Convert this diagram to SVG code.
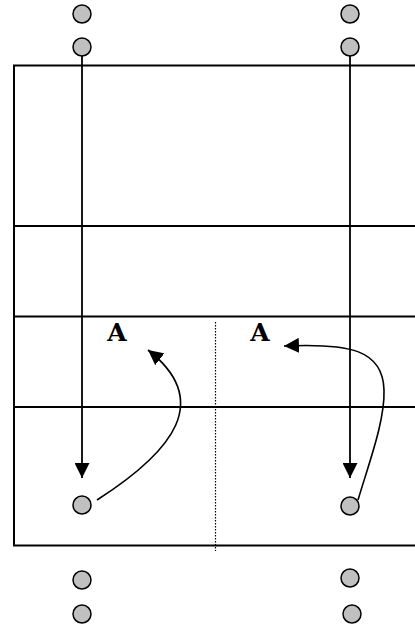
<svg xmlns="http://www.w3.org/2000/svg" width="415" height="629" viewBox="0 0 415 629">
<style>
.p{fill:#c0c0c0;stroke:#000;stroke-width:1.5}
.ln{stroke:#000;stroke-width:1.8;fill:none}
.cv{stroke:#000;stroke-width:1.6;fill:none}
.lbl{font-family:"DejaVu Serif",serif;font-weight:bold;font-size:25px;fill:#000}
</style>
<defs>
<marker id="ahb" viewBox="0 0 10 10" refX="10" refY="5" markerWidth="15" markerHeight="15" markerUnits="userSpaceOnUse" orient="auto">
<path d="M0,0 L10,5 L0,10 Z" fill="#000"/>
</marker>
</defs>
<g id="field">
<rect x="14" y="65.5" width="420" height="480" fill="#fff" stroke="#000" stroke-width="2"/>
<line x1="14" y1="226" x2="415" y2="226" stroke="#000" stroke-width="2"/>
<line x1="14" y1="316.5" x2="415" y2="316.5" stroke="#000" stroke-width="2"/>
<line x1="14" y1="407" x2="415" y2="407" stroke="#000" stroke-width="2"/>
<line x1="215.5" y1="322" x2="215.5" y2="551" stroke="#000" stroke-width="1.2" stroke-dasharray="1.5 1.5"/>
</g>
<g id="connectors">
<line class="ln" x1="82" y1="48" x2="82" y2="478" marker-end="url(#ahb)"/>
<line class="ln" x1="350" y1="48" x2="350" y2="478" marker-end="url(#ahb)"/>
<path class="cv" d="M97,500 C175,450 212,400 148,350" marker-end="url(#ahb)"/>
<path class="cv" d="M358,500 C370,460 385,420 384,390 C383,350 350,343 284,346" marker-end="url(#ahb)"/>
</g>
<g id="player-top-left-1"><circle class="p" cx="82" cy="14" r="9"/></g>
<g id="player-top-left-2"><circle class="p" cx="82" cy="47" r="9"/></g>
<g id="player-top-right-1"><circle class="p" cx="350" cy="14" r="9"/></g>
<g id="player-top-right-2"><circle class="p" cx="350" cy="47" r="9"/></g>
<g id="player-mid-left"><circle class="p" cx="82" cy="505" r="9"/></g>
<g id="player-mid-right"><circle class="p" cx="350" cy="506" r="9"/></g>
<g id="player-bot-left-1"><circle class="p" cx="82" cy="580" r="9"/></g>
<g id="player-bot-left-2"><circle class="p" cx="82" cy="614" r="9"/></g>
<g id="player-bot-right-1"><circle class="p" cx="350" cy="578" r="9"/></g>
<g id="player-bot-right-2"><circle class="p" cx="352" cy="614" r="9"/></g>
<g id="label-a-left"><text class="lbl" x="117" y="341" text-anchor="middle">A</text></g>
<g id="label-a-right"><text class="lbl" x="260" y="341" text-anchor="middle">A</text></g>
</svg>
